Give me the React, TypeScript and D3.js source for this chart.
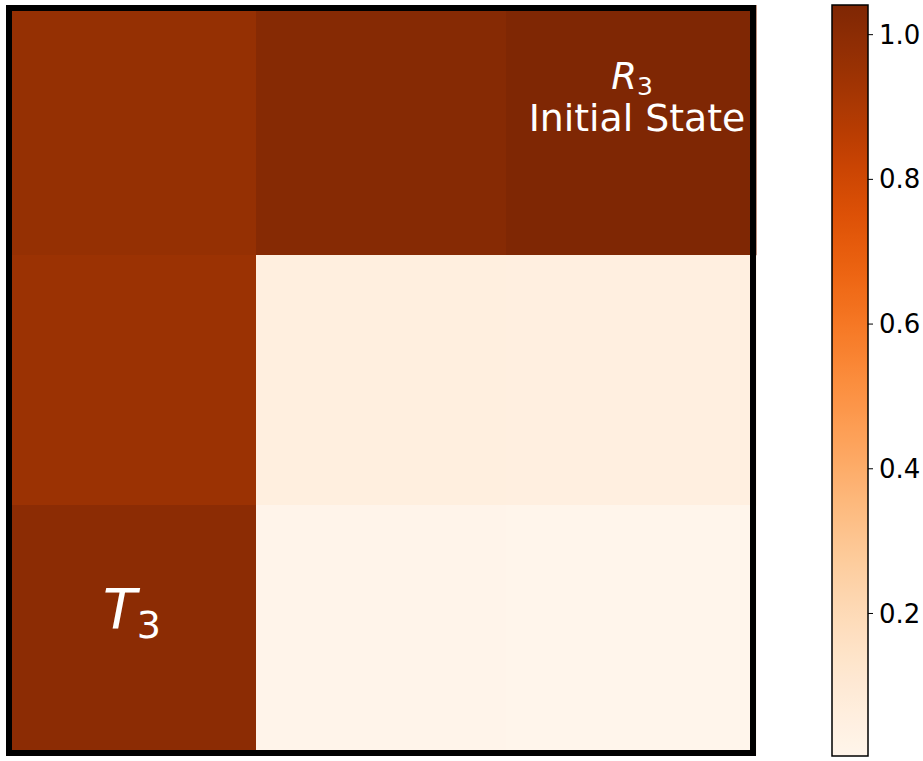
import React from "react";
import * as d3 from "d3";

const rows = ["r0", "r1", "r2"];
const cols = ["c0", "c1", "c2"];
// values row by row (top to bottom), columns left to right
const row0 = [0.968, 1.017, 1.041];
const row1 = [0.951, 0.055, 0.052];
const row2 = [0.999, 0.008, 0.003];
const gridValues = [row0, row1, row2];
const cbTicks = [0.2, 0.4, 0.6, 0.8, 1.0];

const W = 923;
const H = 761;

export default function App() {
  const all = gridValues.flat();
  const vmin = d3.min(all) as number;
  const vmax = d3.max(all) as number;
  const color = d3.scaleSequential(d3.interpolateOranges).domain([vmin, vmax]);

  const x = d3.scaleBand().domain(cols).range([6, 756]);
  const y = d3.scaleBand().domain(rows).range([5, 755]);

  const cbX = 832;
  const cbW = 36;
  const cbY = d3.scaleLinear().domain([vmin, vmax]).range([756, 5]);
  const stops = d3.range(0, 1.0001, 0.02);

  return (
    <div style={{ position: "absolute", left: 0, top: 0 }}>
      <svg width={W} height={H} style={{ display: "block", fontFamily: "DejaVu Sans, sans-serif" }}>
        <defs>
          <linearGradient id="cbgrad" x1="0" y1="1" x2="0" y2="0">
            {stops.map((t, i) => (
              <stop key={i} offset={t} stopColor={d3.interpolateOranges(t)} />
            ))}
          </linearGradient>
        </defs>
        <rect width={W} height={H} fill="#fff" />
        {gridValues.map((row, ri) =>
          row.map((v, ci) => (
            <rect
              key={`${ri}-${ci}`}
              x={x(cols[ci])}
              y={y(rows[ri])}
              width={x.bandwidth() + 0.5}
              height={y.bandwidth() + 0.5}
              fill={color(v)}
            />
          ))
        )}
        <rect x={9} y={8} width={744} height={745} fill="none" stroke="#000" strokeWidth={6} />

        <text x={632} y={89} fill="#fff" fontSize={37} textAnchor="middle">
          <tspan fontStyle="italic">R</tspan>
          <tspan fontSize={25} dy={6}>3</tspan>
        </text>
        <text x={637} y={131} fill="#fff" fontSize={37.8} textAnchor="middle">
          Initial State
        </text>
        <text x={132} y={628} fill="#fff" fontSize={55} textAnchor="middle">
          <tspan fontStyle="italic">T</tspan>
          <tspan fontSize={38} dy={10}>3</tspan>
        </text>

        <rect x={cbX} y={cbY(vmax)} width={cbW} height={cbY(vmin) - cbY(vmax)} fill="url(#cbgrad)" stroke="#000" strokeWidth={1.5} />
        {cbTicks.map((t) => (
          <g key={t} transform={`translate(${cbX + cbW},${cbY(t)})`}>
            <line x1={0} x2={5} stroke="#000" strokeWidth={1} />
            <text x={11} dy="0.35em" fontSize={26} fill="#000">
              {t.toFixed(1)}
            </text>
          </g>
        ))}
      </svg>
    </div>
  );
}
